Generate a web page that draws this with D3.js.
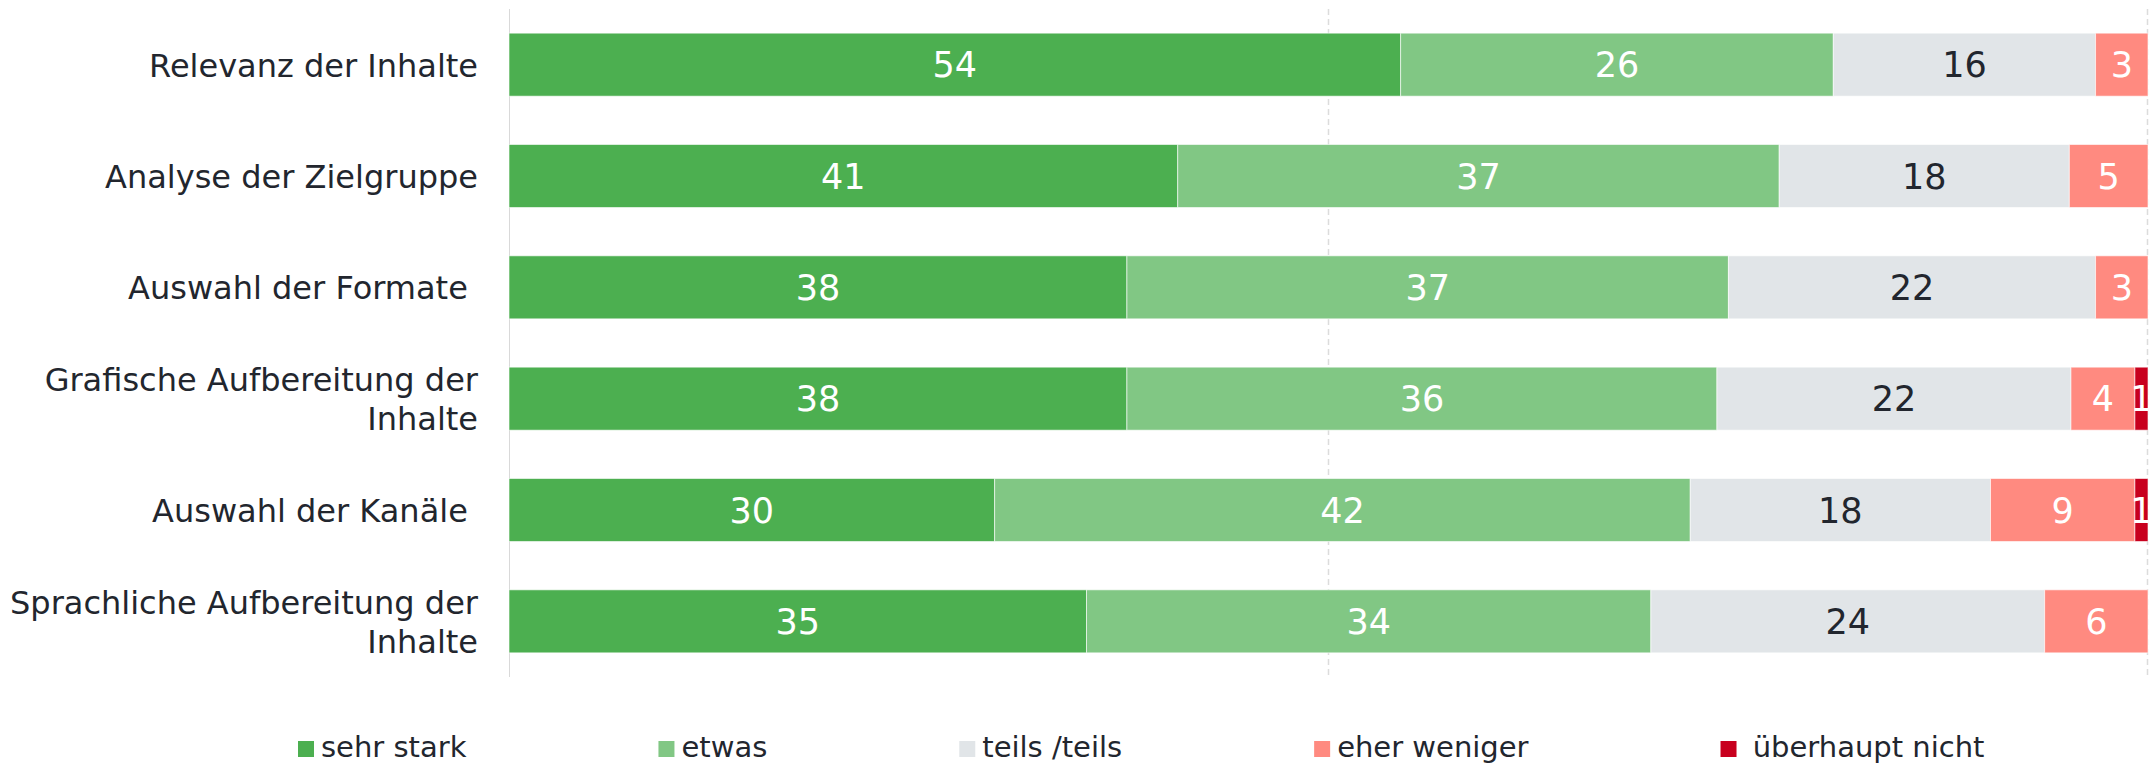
<!DOCTYPE html>
<html>
<head>
<meta charset="utf-8">
<script src="https://cdn.jsdelivr.net/npm/d3@7"></script>
<style>
    body { margin: 0; background: #fff; }
    text { font-family: "DejaVu Sans", Verdana, sans-serif; white-space: pre; }
</style>
</head>
<body>
<div id="main"></div>
<script>
// data (shares in percent; labels show them rounded)
const categories = ["Relevanz der Inhalte", "Analyse der Zielgruppe", "Auswahl der Formate ",
    "Grafische Aufbereitung der\nInhalte", "Auswahl der Kanäle ", "Sprachliche Aufbereitung der\nInhalte"];
const seriesNames = ["sehr stark", "etwas", "teils /teils", "eher weniger", " überhaupt nicht"];
const sehrStark = [54.4, 40.8, 37.7, 37.7, 29.6, 35.2];
const etwas = [26.4, 36.7, 36.7, 36.0, 42.4, 34.4];
const teilsTeils = [16.0, 17.7, 22.4, 21.6, 18.3, 24.0];
const eherWeniger = [3.2, 4.8, 3.2, 3.9, 8.8, 6.3];
const ueberhauptNicht = [0, 0, 0, 0.8, 0.8, 0];
const gridTicks = [0.5, 1];

// dimensions
const svg_width = 2151,
    svg_height = 764;
const margin = {top: 9, right: 3, bottom: 87, left: 509};
const graph_width = svg_width - margin.left - margin.right,
    graph_height = svg_height - margin.top - margin.bottom;

const colors = ["#4caf50", "#81c784", "#e1e5e8", "#ff8a80", "#c8001e"];
const labelColors = ["#ffffff", "#ffffff", "#22262e", "#ffffff", "#ffffff"];

// reshape into rows for the stack
const keys = ["s0", "s1", "s2", "s3", "s4"];
const allSeries = [sehrStark, etwas, teilsTeils, eherWeniger, ueberhauptNicht];
const data = categories.map(function(c, i) {
    const row = {category: c};
    keys.forEach(function(k, j) { row[k] = allSeries[j][i]; });
    return row;
});
const stacked = d3.stack().keys(keys).offset(d3.stackOffsetExpand)(data);

var svg = d3.select("#main").append("svg")
    .attr("width", svg_width)
    .attr("height", svg_height);
var g = svg.append("g")
    .attr("transform", `translate(${margin.left}, ${margin.top})`);

var xScale = d3.scaleLinear().domain([0, 1]).range([0, graph_width]);
var yScale = d3.scaleBand().domain(categories).range([0, graph_height]).paddingInner(0.434).paddingOuter(0.217);

// grid lines
g.selectAll(".grid")
    .data(gridTicks)
    .enter().append("line")
    .attr("x1", d => Math.round(xScale(d)) - 0.5)
    .attr("x2", d => Math.round(xScale(d)) - 0.5)
    .attr("y1", 0)
    .attr("y2", graph_height)
    .attr("stroke", "#dcdcdc")
    .attr("stroke-width", 1.5)
    .attr("stroke-dasharray", "6,4");
g.append("line")
    .attr("x1", 0.5).attr("x2", 0.5)
    .attr("y1", 0).attr("y2", graph_height)
    .attr("stroke", "#d9d9d9");

// bars
var layers = g.selectAll(".layer")
    .data(stacked)
    .enter().append("g")
    .attr("class", "layer")
    .attr("fill", (d, i) => colors[i]);
layers.selectAll("rect")
    .data(d => d)
    .enter().append("rect")
    .attr("x", d => xScale(d[0]))
    .attr("y", d => yScale(d.data.category))
    .attr("width", d => Math.max(0, xScale(d[1]) - xScale(d[0])))
    .attr("height", yScale.bandwidth())
    .attr("stroke", "#ffffff")
    .attr("stroke-opacity", 0.6)
    .attr("stroke-width", 1);

// data labels, clipped to plot area
g.append("defs").append("clipPath").attr("id", "clip")
    .append("rect").attr("width", graph_width).attr("height", graph_height);
var labels = g.append("g").attr("clip-path", "url(#clip)");
stacked.forEach(function(layer, i) {
    labels.selectAll(".lbl" + i)
        .data(layer.filter(d => d.data[layer.key] > 0))
        .enter().append("text")
        .attr("x", d => (xScale(d[0]) + xScale(d[1])) / 2)
        .attr("y", d => yScale(d.data.category) + yScale.bandwidth() / 2 + 12.5)
        .attr("text-anchor", "middle")
        .attr("font-size", "35px")
        .attr("fill", labelColors[i])
        .text(d => Math.round(d.data[layer.key]));
});

// category labels
categories.forEach(function(c) {
    const lines = c.split("\n");
    const cy = yScale(c) + yScale.bandwidth() / 2;
    const t = g.append("text")
        .attr("text-anchor", "end")
        .attr("font-size", "32px")
        .attr("fill", "#22262e");
    lines.forEach(function(line, k) {
        t.append("tspan")
            .attr("x", -31)
            .attr("y", cy + 12 - (lines.length - 1) * 19.5 + k * 39)
            .text(line);
    });
});

// legend
var legend = svg.append("g").attr("transform", "translate(298, 0)");
var lx = 0;
seriesNames.forEach(function(name, i) {
    const item = legend.append("g").attr("transform", `translate(${lx}, 0)`);
    item.append("rect")
        .attr("x", 0).attr("y", 741)
        .attr("width", 16).attr("height", 16)
        .attr("fill", colors[i]);
    const t = item.append("text")
        .attr("x", 23).attr("y", 757)
        .attr("font-size", "29px")
        .attr("fill", "#22262e")
        .text(name);
    lx += 23 + t.node().getComputedTextLength() + 192;
});
</script>
</body>
</html>
